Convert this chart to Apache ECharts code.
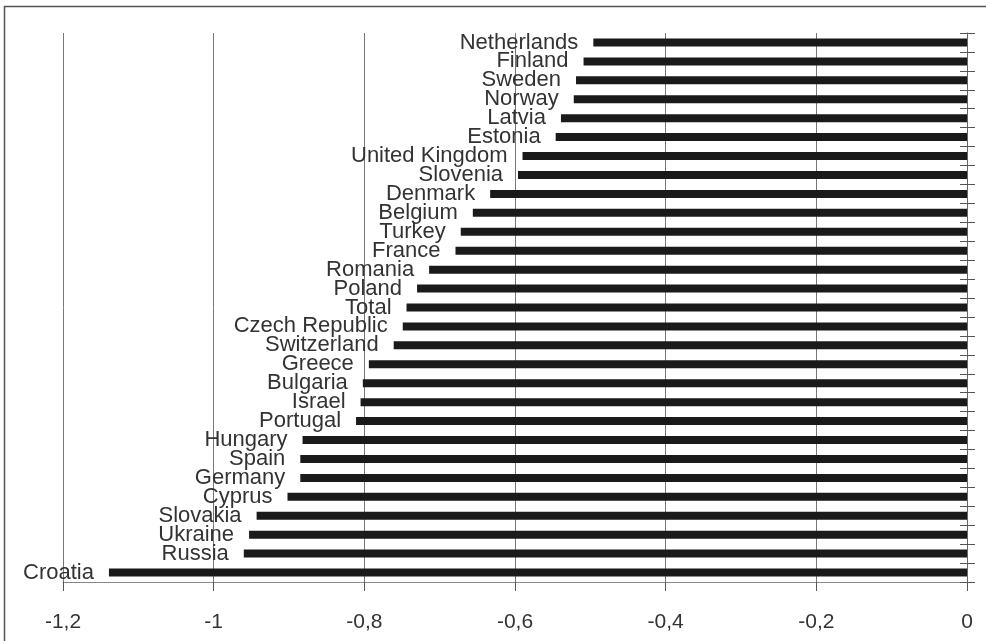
<!DOCTYPE html>
<html><head><meta charset="utf-8">
<script src="https://cdn.jsdelivr.net/npm/echarts@6/dist/echarts.min.js"></script>
<style>html,body{margin:0;padding:0;background:#fff}#c{width:986px;height:641px}</style>
</head><body><div id="c"></div>
<script>
const categories = ["Netherlands","Finland","Sweden","Norway","Latvia","Estonia","United Kingdom","Slovenia","Denmark","Belgium","Turkey","France","Romania","Poland","Total","Czech Republic","Switzerland","Greece","Bulgaria","Israel","Portugal","Hungary","Spain","Germany","Cyprus","Slovakia","Ukraine","Russia","Croatia"];
const values = [-0.496,-0.509,-0.519,-0.522,-0.539,-0.546,-0.590,-0.596,-0.633,-0.656,-0.672,-0.679,-0.714,-0.730,-0.744,-0.749,-0.761,-0.794,-0.802,-0.805,-0.811,-0.882,-0.885,-0.885,-0.902,-0.943,-0.953,-0.960,-1.139];
const xTicks = {min:-1.2, max:0, interval:0.2};

const chart = echarts.init(document.getElementById('c'), null, {renderer:'canvas'});
const font = '"Liberation Sans", sans-serif';
chart.setOption({
  animation:false,
  grid:{left:63, right:19, top:33, bottom:59},
  graphic:[{type:'polyline', shape:{points:[[4.5,641],[4.5,6.5],[986,6.5]]}, style:{stroke:'#555', lineWidth:1.5, fill:null}, silent:true}],
  xAxis:{type:'value', min:xTicks.min, max:xTicks.max, interval:xTicks.interval,
    axisLine:{show:true, onZero:false, lineStyle:{color:'#888', width:1}},
    axisTick:{show:true, length:9, lineStyle:{color:'#555'}},
    splitLine:{show:true, lineStyle:{color:'#777', width:1}},
    axisLabel:{color:'#333', fontFamily:font, fontSize:21, margin:30,
      formatter:v=>String(Math.round(v*10)/10).replace('.',',')}},
  yAxis:[{type:'category', data:categories, inverse:true, position:'right',
    axisLine:{show:true, lineStyle:{color:'#666', width:1}},
    axisTick:{show:true, length:8, lineStyle:{color:'#555'}},
    axisLabel:{show:false}},
   {type:'category', data:categories, inverse:true, position:'right',
    axisLine:{show:false},
    axisTick:{show:true, inside:true, length:7, lineStyle:{color:'#555'}},
    axisLabel:{show:false}}],
  series:[{type:'bar', data:values, barWidth:8, itemStyle:{color:'#1a1a1a'},
    label:{show:true, position:'left', distance:15, color:'#333', fontFamily:font, fontSize:22,
      formatter:p=>p.name}}]
});
</script></body></html>
